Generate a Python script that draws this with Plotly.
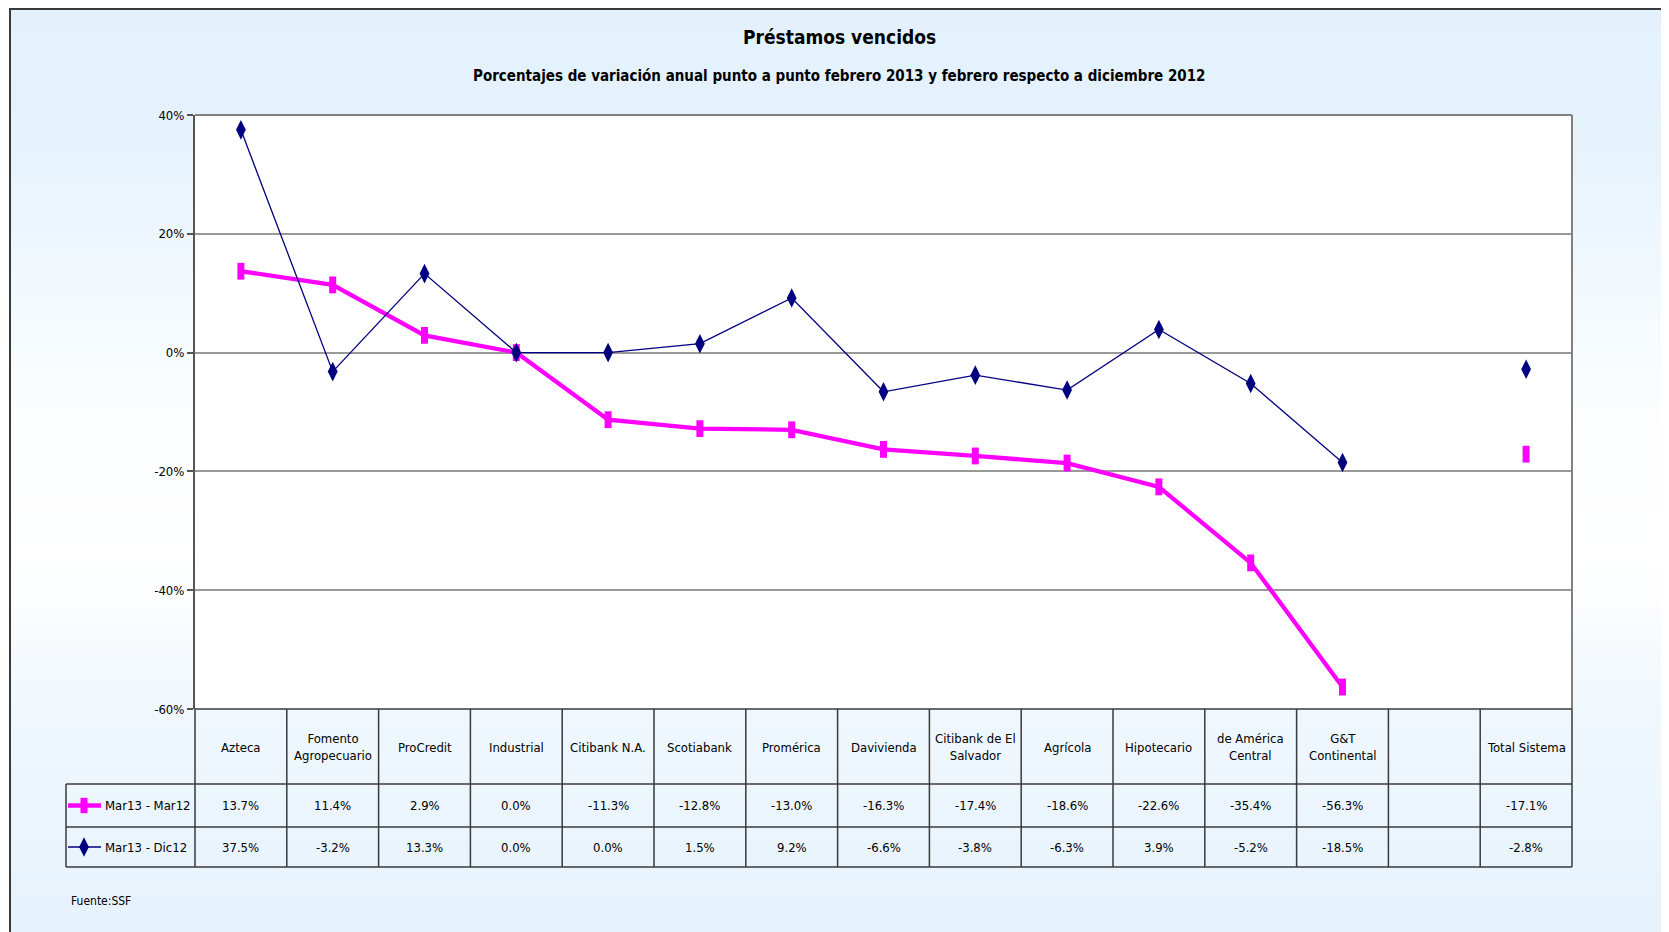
import plotly.graph_objects as go

W, H = 1669, 932
OFF = 8  # page body margin offset

# ---------------- data ----------------
categories = ["Azteca", "Fomento Agropecuario", "ProCredit", "Industrial", "Citibank N.A.",
              "Scotiabank", "Promérica", "Davivienda", "Citibank de El Salvador", "Agrícola",
              "Hipotecario", "de América Central", "G&T Continental", " ", "Total Sistema"]
header_labels = ["Azteca", "Fomento<br>Agropecuario", "ProCredit", "Industrial", "Citibank N.A.",
                 "Scotiabank", "Promérica", "Davivienda", "Citibank de El<br>Salvador", "Agrícola",
                 "Hipotecario", "de América<br>Central", "G&T<br>Continental", "", "Total Sistema"]
series1_name = "Mar13 - Mar12"
series1 = [13.7, 11.4, 2.9, 0.0, -11.3, -12.8, -13.0, -16.3, -17.4, -18.6, -22.6, -35.4, -56.3, None, -17.1]
series2_name = "Mar13 - Dic12"
series2 = [37.5, -3.2, 13.3, 0.0, 0.0, 1.5, 9.2, -6.6, -3.8, -6.3, 3.9, -5.2, -18.5, None, -2.8]
y_ticks = [-60, -40, -20, 0, 20, 40]

title = "Préstamos vencidos"
subtitle = "Porcentajes de variación anual punto a punto febrero 2013 y febrero respecto a diciembre 2012"
source = "Fuente:SSF"

# ---------------- layout geometry (page pixels) ----------------
PL, PR, PT, PB = 195, 1572, 115, 709      # plot area
ROW1, ROW2, ROWB = 784, 827, 867          # table row lines
LEGL = 66                                  # legend column left edge
FONT = "Liberation Sans Narrow, Arial Narrow, DejaVu Sans Condensed, sans-serif"
MAG = "#FF00FF"
NAVY = "#000080"

def fx(px):
    return (px - OFF) / W

def fy(py):
    return 1 - (py - OFF) / H

fig = go.Figure()

mag_marker = dict(symbol="line-ns", size=12, color=MAG, line=dict(color=MAG, width=7))
navy_marker = dict(symbol="diamond-tall", size=14, color=NAVY, line=dict(width=0))

fig.add_trace(go.Scatter(x=categories, y=series1, name=series1_name, mode="lines+markers",
                         line=dict(color=MAG, width=4.3), marker=mag_marker,
                         connectgaps=False, showlegend=False, xaxis="x", yaxis="y"))
fig.add_trace(go.Scatter(x=categories, y=series2, name=series2_name, mode="lines+markers",
                         line=dict(color=NAVY, width=1.3), marker=navy_marker,
                         connectgaps=False, showlegend=False, xaxis="x", yaxis="y"))

# legend samples on a pixel-space overlay axis
leg_y = [(ROW1 + ROW2) / 2, (ROW2 + ROWB) / 2]
fig.add_trace(go.Scatter(x=[68, 101], y=[leg_y[0]] * 2, mode="lines",
                         line=dict(color=MAG, width=4.3),
                         showlegend=False, hoverinfo="skip", xaxis="x2", yaxis="y2"))
fig.add_trace(go.Scatter(x=[84], y=[leg_y[0]], mode="markers",
                         marker=dict(symbol="line-ns", size=11, color=MAG, line=dict(color=MAG, width=7)),
                         showlegend=False, hoverinfo="skip", xaxis="x2", yaxis="y2"))
fig.add_trace(go.Scatter(x=[68, 101], y=[leg_y[1]] * 2, mode="lines",
                         line=dict(color=NAVY, width=1.3),
                         showlegend=False, hoverinfo="skip", xaxis="x2", yaxis="y2"))
fig.add_trace(go.Scatter(x=[84], y=[leg_y[1]], mode="markers", marker=navy_marker,
                         showlegend=False, hoverinfo="skip", xaxis="x2", yaxis="y2"))

shapes = []
# background gradient strips (light blue -> white -> light blue)
stops = [(0, (227, 241, 253)), (150, (230, 243, 253)), (380, (250, 253, 255)),
         (560, (255, 255, 255)), (700, (241, 248, 254)), (940, (229, 242, 252))]

def col_at(py):
    for (a, ca), (b, cb) in zip(stops[:-1], stops[1:]):
        if a <= py <= b:
            t = (py - a) / (b - a)
            return tuple(round(ca[k] + (cb[k] - ca[k]) * t) for k in range(3))
    return stops[-1][1]

step = 12
py = OFF
while py < H + OFF:
    c = col_at(py + step / 2)
    shapes.append(dict(type="rect", xref="paper", yref="paper", x0=fx(10), x1=1,
                       y0=fy(py + step + 1), y1=fy(py), layer="below",
                       line=dict(width=0), fillcolor="rgb(%d,%d,%d)" % c))
    py += step
# white plot area
shapes.append(dict(type="rect", xref="paper", yref="paper", x0=fx(PL), x1=fx(PR),
                   y0=fy(PB), y1=fy(PT), layer="below", line=dict(width=0), fillcolor="white"))
# outer frame
shapes.append(dict(type="line", xref="paper", yref="paper", x0=fx(10), x1=fx(10), y0=0, y1=1,
                   line=dict(color="#3a3a3a", width=2)))
shapes.append(dict(type="line", xref="paper", yref="paper", x0=fx(10), x1=1, y0=fy(OFF + 1), y1=fy(OFF + 1),
                   line=dict(color="#3a3a3a", width=2)))
# plot border (top/right)
shapes.append(dict(type="line", xref="paper", yref="paper", x0=fx(PL), x1=fx(PR), y0=fy(PT), y1=fy(PT),
                   line=dict(color="#808080", width=2)))
shapes.append(dict(type="line", xref="paper", yref="paper", x0=fx(PR), x1=fx(PR), y0=fy(PB), y1=fy(PT),
                   line=dict(color="#808080", width=2)))

# table lines
n = len(categories)
cw = (PR - PL) / n
tcol = "#3a3a3a"
for yy, x0 in [(PB, PL), (ROW1, LEGL), (ROW2, LEGL), (ROWB, LEGL)]:
    shapes.append(dict(type="line", xref="paper", yref="paper", x0=fx(x0), x1=fx(PR),
                       y0=fy(yy), y1=fy(yy), line=dict(color=tcol, width=1.5)))
for i in range(n + 1):
    xx = PL + cw * i
    shapes.append(dict(type="line", xref="paper", yref="paper", x0=fx(xx), x1=fx(xx),
                       y0=fy(ROWB), y1=fy(PB), line=dict(color=tcol, width=1.5)))
shapes.append(dict(type="line", xref="paper", yref="paper", x0=fx(LEGL), x1=fx(LEGL),
                   y0=fy(ROWB), y1=fy(ROW1), line=dict(color=tcol, width=1.5)))

annotations = []
annotations.append(dict(text="<b>%s</b>" % title, xref="paper", yref="paper", x=fx(839), y=fy(37),
                        showarrow=False, font=dict(family=FONT, size=19, color="black"),
                        xanchor="center", yanchor="middle"))
annotations.append(dict(text="<b>%s</b>" % subtitle, xref="paper", yref="paper", x=fx(839), y=fy(76),
                        showarrow=False, font=dict(family=FONT, size=15, color="black"),
                        xanchor="center", yanchor="middle"))
annotations.append(dict(text=source, xref="paper", yref="paper", x=fx(69), y=fy(901),
                        showarrow=False, font=dict(family=FONT, size=12, color="black"),
                        xanchor="left", yanchor="middle"))

tfont = dict(family=FONT, size=13, color="black")
for i, lab in enumerate(header_labels):
    cx = fx(PL + cw * (i + 0.5))
    if lab:
        annotations.append(dict(text=lab, xref="paper", yref="paper", x=cx, y=fy((PB + ROW1) / 2),
                                showarrow=False, font=tfont, xanchor="center", yanchor="middle",
                                height=58, valign="middle"))
    for vals, yy in [(series1, leg_y[0]), (series2, leg_y[1])]:
        v = vals[i]
        if v is not None:
            annotations.append(dict(text="%.1f%%" % v, xref="paper", yref="paper", x=cx, y=fy(yy),
                                    showarrow=False, font=tfont, xanchor="center", yanchor="middle"))
for name, yy in [(series1_name, leg_y[0]), (series2_name, leg_y[1])]:
    annotations.append(dict(text=name, xref="paper", yref="paper", x=fx(103), y=fy(yy),
                            showarrow=False, font=tfont, xanchor="left", yanchor="middle"))

fig.update_layout(
    width=W, height=H, autosize=False,
    margin=dict(l=0, r=0, t=0, b=0, pad=0),
    paper_bgcolor="white", plot_bgcolor="rgba(0,0,0,0)",
    showlegend=False,
    xaxis=dict(domain=[fx(PL), fx(PR)], anchor="y", type="category",
               categoryorder="array", categoryarray=categories,
               range=[-0.5, n - 0.5], showticklabels=False, showgrid=False,
               zeroline=False, showline=False, ticks=""),
    yaxis=dict(domain=[fy(PB), fy(PT)], anchor="x", range=[-60, 40], tickvals=y_ticks,
               ticktext=["%d%%" % t for t in y_ticks], showgrid=True, gridcolor="#999999",
               gridwidth=1.5, zeroline=False, showline=True, linecolor="#555555", linewidth=2,
               ticks="outside", ticklen=6, tickcolor="#555555", tickwidth=1.5,
               tickfont=dict(family=FONT, size=13, color="black"), automargin=False),
    xaxis2=dict(domain=[0, 1], anchor="y2", range=[OFF, W + OFF], visible=False),
    yaxis2=dict(domain=[0, 1], anchor="x2", range=[H + OFF, OFF], visible=False),
    shapes=shapes, annotations=annotations,
)

fig.write_html("out.html")
